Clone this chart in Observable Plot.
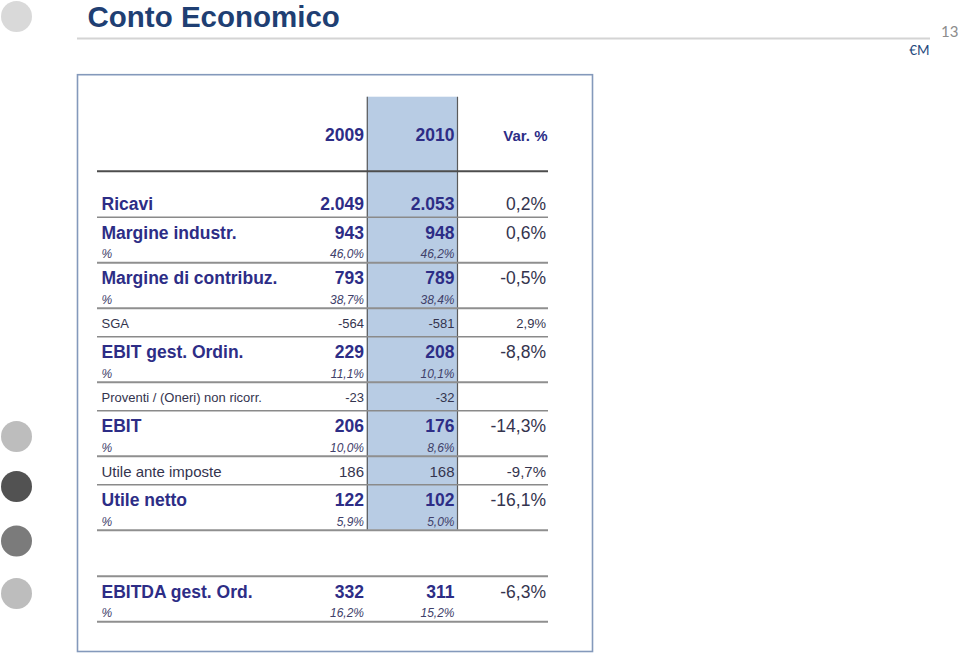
<!DOCTYPE html>
<html>
<head>
<meta charset="utf-8">
<script src="https://cdn.jsdelivr.net/npm/d3@7"></script>
<script src="https://cdn.jsdelivr.net/npm/@observablehq/plot@0.6"></script>
<style>
  html, body { margin: 0; padding: 0; background: #ffffff; }
  #chart svg { display: block; }
</style>
</head>
<body>
<div id="chart"></div>
<script>
// ---------------- data ----------------
const title = "Conto Economico";
const pageNumber = "13";
const unitLabel = "€M";
const years = ["2009", "2010"];
const varHeader = "Var. %";

const rowLabels = [
  "Ricavi", "Margine industr.", "Margine di contribuz.", "SGA",
  "EBIT gest. Ordin.", "Proventi / (Oneri) non ricorr.", "EBIT",
  "Utile ante imposte", "Utile netto", "EBITDA gest. Ord."
];
const values2009 = [2049, 943, 793, -564, 229, -23, 206, 186, 122, 332];
const values2010 = [2053, 948, 789, -581, 208, -32, 176, 168, 102, 311];
const varPct     = [0.2, 0.6, -0.5, 2.9, -8.8, null, -14.3, -9.7, -16.1, -6.3];
const margin2009 = [null, 46.0, 38.7, null, 11.1, null, 10.0, null, 5.9, 16.2];
const margin2010 = [null, 46.2, 38.4, null, 10.1, null, 8.6, null, 5.0, 15.2];
const rowTypes   = ["total", "total", "total", "item", "total", "item", "total", "subtotal", "total", "total"];
const sections   = ["main", "main", "main", "main", "main", "main", "main", "main", "main", "memo"];
const marginLabel = "%";

// ---------------- formatting ----------------
const it = d3.formatLocale({decimal: ",", thousands: ".", grouping: [3], currency: ["€", ""], minus: "-"});
const fmtNum = it.format(",.0f");
const fmtPct = v => it.format(".1f")(v) + "%";

// ---------------- layout (code, not data) ----------------
const FONT = "Liberation Sans, Arial, Helvetica, sans-serif";
const NAVY = "#2d2d86";
const DARK = "#34344e";
const ITAL = "#40406a";
const xLabel = 101;
const colRight = {"2009": 363.5, "2010": 454, "var": 545.5};
const lineX1 = 97, lineX2 = 548;
const headerBaseline = 140.5, headerLineY = 170.7;
const bandTop = 96.7;

const typeStyle = {
  total:    {size: 17.5, weight: "bold",   color: NAVY, varSize: 17.5, base: 21.3},
  subtotal: {size: 15,   weight: "normal", color: DARK, varSize: 15,   base: 20.7},
  item:     {size: 13,   weight: "normal", color: DARK, varSize: 13,   base: 19.5}
};

const rows = [];
let cursor = headerLineY + 17.5;
let prevSection = sections[0];
const extraLines = [];
rowLabels.forEach((label, i) => {
  if (sections[i] !== prevSection) {
    cursor += 46;
    extraLines.push({y: cursor, kind: "section"});
    prevSection = sections[i];
  }
  const st = typeStyle[rowTypes[i]];
  const hasPct = margin2009[i] != null;
  const top = cursor;
  const h = hasPct ? 45.5 : 28.5;
  rows.push({
    label, type: rowTypes[i], section: sections[i],
    v2009: values2009[i], v2010: values2010[i], varPct: varPct[i],
    m2009: margin2009[i], m2010: margin2010[i],
    baseline: top + st.base, pctBaseline: top + 41, bottom: top + h, style: st
  });
  cursor = top + h;
});
const mainBottom = d3.max(rows.filter(r => r.section === "main"), r => r.bottom);

// text records
const texts = [];
rows.forEach(r => {
  const st = r.style;
  texts.push({x: xLabel, y: r.baseline, t: r.label, size: st.size, weight: st.weight, color: st.color, anchor: "start", italic: false});
  texts.push({x: colRight["2009"], y: r.baseline, t: fmtNum(r.v2009), size: st.size, weight: st.weight, color: st.color, anchor: "end", italic: false});
  texts.push({x: colRight["2010"], y: r.baseline, t: fmtNum(r.v2010), size: st.size, weight: st.weight, color: st.color, anchor: "end", italic: false});
  if (r.varPct != null)
    texts.push({x: colRight["var"], y: r.baseline, t: fmtPct(r.varPct), size: st.varSize, weight: "normal", color: DARK, anchor: "end", italic: false});
  if (r.m2009 != null) {
    texts.push({x: xLabel, y: r.pctBaseline, t: marginLabel, size: 12, weight: "normal", color: ITAL, anchor: "start", italic: true});
    texts.push({x: colRight["2009"], y: r.pctBaseline, t: fmtPct(r.m2009), size: 12, weight: "normal", color: ITAL, anchor: "end", italic: true});
    texts.push({x: colRight["2010"], y: r.pctBaseline, t: fmtPct(r.m2010), size: 12, weight: "normal", color: ITAL, anchor: "end", italic: true});
  }
});
texts.push({x: colRight["2009"], y: headerBaseline, t: years[0], size: 17.5, weight: "bold", color: NAVY, anchor: "end", italic: false});
texts.push({x: colRight["2010"], y: headerBaseline, t: years[1], size: 17.5, weight: "bold", color: NAVY, anchor: "end", italic: false});
texts.push({x: colRight["var"] + 1.5, y: headerBaseline, t: varHeader, size: 15, weight: "bold", color: NAVY, anchor: "end", italic: false});

const textGroups = d3.groups(texts, d => `${d.anchor}|${d.weight}|${d.italic}`);
const textMarks = textGroups.map(([key, data]) => {
  const [anchor, weight, italic] = key.split("|");
  return Plot.text(data, {
    x: "x", y: "y", text: "t", fill: "color", fontSize: "size",
    textAnchor: anchor, lineAnchor: "bottom",
    fontWeight: weight, fontStyle: italic === "true" ? "italic" : "normal"
  });
});

// horizontal rules
const hLines = [{y: headerLineY, kind: "header"}]
  .concat(rows.map(r => ({y: r.bottom, kind: r.m2009 != null ? "strong" : "thin"})))
  .concat(extraLines);
const lineStyle = {header: {c: "#4d4d4d", w: 2}, strong: {c: "#8f8f8f", w: 2}, thin: {c: "#8a8a8a", w: 1.4}, section: {c: "#8f8f8f", w: 2}};
const lineGroups = d3.groups(hLines, d => d.kind);

// decorations
const dots = [
  {x: 16, y: 16, c: "#d9d9d9"},
  {x: 16, y: 436, c: "#bdbdbd"},
  {x: 16, y: 486, c: "#525252"},
  {x: 16, y: 540.5, c: "#7b7b7b"},
  {x: 16, y: 593, c: "#bdbdbd"}
];
const bandX1 = colRight["2009"] + 3.3, bandX2 = colRight["2010"] + 3;

const chart = Plot.plot({
  width: 960,
  height: 656,
  margin: 0,
  style: {fontFamily: FONT, background: "#ffffff"},
  x: {type: "linear", domain: [0, 960], range: [0, 960], axis: null},
  y: {type: "linear", domain: [0, 656], range: [0, 656], axis: null},
  marks: [
    // page decorations
    Plot.dot(dots, {x: "x", y: "y", r: 15.5, fill: "c", stroke: null}),
    Plot.text([title], {x: 87, y: 26, text: d => d, textAnchor: "start", lineAnchor: "bottom", fontSize: 29.5, fontWeight: "bold", fill: "#1f3f73"}),
    Plot.ruleY([38], {x1: 77, x2: 930, stroke: "#d4d4d4", strokeWidth: 2}),
    Plot.text([pageNumber], {x: 958, y: 36, text: d => d, textAnchor: "end", lineAnchor: "bottom", fontSize: 15, fill: "#8c8c8c", fontFamily: "Lato, Open Sans, sans-serif"}),
    Plot.text([unitLabel], {x: 929, y: 54, text: d => d, textAnchor: "end", lineAnchor: "bottom", fontSize: 13.5, fill: "#1f497d", fontFamily: "Lato, Open Sans, sans-serif"}),
    // table frame
    Plot.rect([0], {x1: 77.5, x2: 592.5, y1: 74.7, y2: 651.5, fill: "none", stroke: "#8499bb", strokeWidth: 1.6}),
    // highlighted 2010 column
    Plot.rect([years[1]], {x1: bandX1, x2: bandX2, y1: bandTop, y2: mainBottom, fill: "#b8cce4"}),
    Plot.ruleX([bandX1, bandX2], {y1: bandTop, y2: mainBottom, stroke: "#5a5a5a", strokeWidth: 1.2}),
    // horizontal rules
    ...lineGroups.map(([kind, data]) => Plot.ruleY(data, {y: "y", x1: lineX1, x2: lineX2, stroke: lineStyle[kind].c, strokeWidth: lineStyle[kind].w})),
    // table texts
    ...textMarks
  ]
});
document.getElementById("chart").appendChild(chart);
</script>
</body>
</html>
